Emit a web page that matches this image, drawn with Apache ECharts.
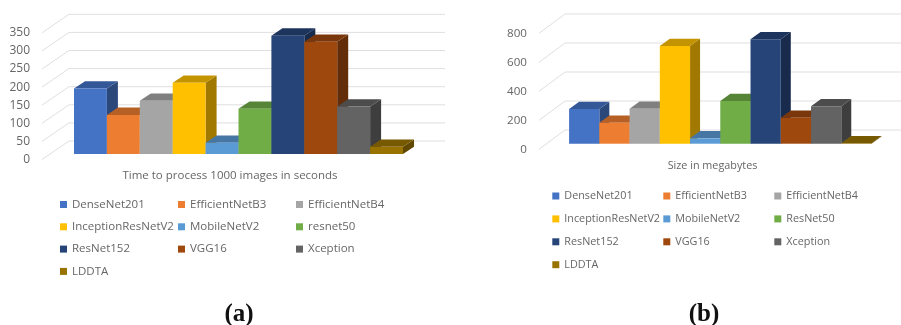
<!DOCTYPE html>
<html>
<head>
<meta charset="utf-8">
<style>html,body{margin:0;padding:0;background:#fff}#chart{width:901px;height:325px}</style>
<script src="https://cdn.jsdelivr.net/npm/echarts@6/dist/echarts.min.js"></script>
</head>
<body>
<div id="chart"></div>
<script>
// Model names for each panel (panel a spells resnet50 in lower case).
const modelsTime = ['DenseNet201','EfficientNetB3','EfficientNetB4','InceptionResNetV2','MobileNetV2','resnet50','ResNet152','VGG16','Xception','LDDTA'];
const modelsSize = ['DenseNet201','EfficientNetB3','EfficientNetB4','InceptionResNetV2','MobileNetV2','ResNet50','ResNet152','VGG16','Xception','LDDTA'];
// Seconds to process 1000 images.
const timeValues = [181,108,147,197,31,125,327,310,131,20];
// Model size in megabytes.
const sizeValues = [239,145,241,674,37,294,720,179,258,2];
const timeTicks = [0,50,100,150,200,250,300,350];
const sizeTicks = [0,200,400,600,800];
const timeCategory = 'Time to process 1000 images in seconds';
const sizeCategory = 'Size in megabytes';
const baseColors = ['#4472C4','#ED7D31','#A5A5A5','#FFC000','#5B9BD5','#70AD47','#264478','#9E480E','#636363','#997300'];

const FONT = '"Open Sans", sans-serif';
const TEXT = '#666666';

function shade(hex, k) {
  const n = parseInt(hex.slice(1), 16);
  const c = [n >> 16, (n >> 8) & 255, n & 255].map(v => Math.round(v * k));
  return 'rgb(' + c.join(',') + ')';
}

// Panel layout: the grid is the front plane of the 3D box, bars stand part way into its depth.
const panels = [
  { names: modelsTime, values: timeValues, ticks: timeTicks, category: timeCategory,
    grid: { left: 42, top: 32.8, width: 376, height: 126.7 },
    box: [27, -18.5], inset: [8.5, -5.5], depth: [11, -7.3], span: 0.875,
    textSize: 11.5, labelMargin: 10.5, valueSize: 12,
    legend: { lefts: [60, 178, 296], top: 197.5, gap: 8.3 }, caption: '(a)', captionX: 239 },
  { names: modelsSize, values: sizeValues, ticks: sizeTicks, category: sizeCategory,
    grid: { left: 539, top: 33.3, width: 347, height: 116 },
    box: [26, -19.3], inset: [7.8, -5.6], depth: [10, -7.3], span: 0.8715,
    textSize: 10.8, labelMargin: 11, valueSize: 11.6,
    legend: { lefts: [552.3, 663.3, 774.3], top: 189, gap: 8.9 }, caption: '(b)', captionX: 704 }
];

function wallSeries(p, idx) {
  return {
    type: 'custom', name: 'wall' + idx, xAxisIndex: idx, yAxisIndex: idx,
    silent: true, z: 1, legendHoverLink: false,
    data: p.ticks.map(t => [0, t]),
    renderItem(params, api) {
      const pt = api.coord([0, api.value(1)]);
      const band = api.size([1, 0])[0];
      const x0 = pt[0] - band / 2, y0 = pt[1];
      const x1 = x0 + p.box[0], y1 = y0 + p.box[1];
      return {
        type: 'polyline',
        shape: { points: [[x0, y0], [x1, y1], [x1 + band, y1]] },
        style: { fill: 'none', stroke: '#dfdfdf', lineWidth: 1 }
      };
    }
  };
}

function barSeries(p, idx, i) {
  const color = baseColors[i];
  return {
    type: 'custom', name: p.names[i], xAxisIndex: idx, yAxisIndex: idx,
    z: 2, itemStyle: { color },
    data: [[0, p.values[i]]],
    renderItem(params, api) {
      const top = api.coord([0, api.value(1)]);
      const base = api.coord([0, 0]);
      const band = api.size([1, 0])[0];
      const w = band * p.span / 10;
      const xl = top[0] + (i - 5) * w + p.inset[0];
      const xr = xl + w;
      const yt = top[1] + p.inset[1];
      const yb = base[1] + p.inset[1];
      const dx = p.depth[0], dy = p.depth[1];
      return {
        type: 'group',
        children: [
          { type: 'polygon', shape: { points: [[xr, yb], [xr + dx, yb + dy], [xr + dx, yt + dy], [xr, yt]] },
            style: { fill: shade(color, 0.63) } },
          { type: 'polygon', shape: { points: [[xl, yt], [xr, yt], [xr + dx, yt + dy], [xl + dx, yt + dy]] },
            style: { fill: shade(color, 0.77) } },
          { type: 'rect', shape: { x: xl, y: yt, width: w, height: yb - yt },
            style: { fill: color } }
        ]
      };
    }
  };
}

const series = [], grids = [], xAxes = [], yAxes = [], legends = [], titles = [];
panels.forEach((p, idx) => {
  grids.push(p.grid);
  xAxes.push({
    type: 'category', gridIndex: idx, data: [p.category],
    axisLine: { show: false }, axisTick: { show: false },
    axisLabel: { color: TEXT, fontFamily: FONT, fontSize: p.textSize, margin: p.labelMargin }
  });
  yAxes.push({
    type: 'value', gridIndex: idx, min: 0, max: p.ticks[p.ticks.length - 1], interval: p.ticks[1],
    axisLine: { show: false }, axisTick: { show: false }, splitLine: { show: false },
    axisLabel: { color: TEXT, fontFamily: FONT, fontSize: p.valueSize, margin: 12 }
  });
  series.push(wallSeries(p, idx));
  p.names.forEach((_, i) => series.push(barSeries(p, idx, i)));
  // Three columns, four rows: one vertical legend per column.
  p.legend.lefts.forEach((left, col) => {
    legends.push({
      orient: 'vertical', left, top: p.legend.top, padding: 0,
      itemWidth: 7, itemHeight: 7, itemGap: p.legend.gap, selectedMode: false,
      icon: 'rect',
      textStyle: { color: TEXT, fontFamily: FONT, fontSize: p.textSize, lineHeight: 14 },
      data: p.names.filter((_, i) => i % 3 === col)
    });
  });
  titles.push({
    text: p.caption, left: p.captionX, top: 302, textAlign: 'center', padding: 0,
    textStyle: { fontFamily: '"Liberation Serif", serif', fontWeight: 'bold', fontSize: 25, color: '#111' }
  });
});

const chart = echarts.init(document.getElementById('chart'), null, { renderer: 'canvas' });
chart.setOption({
  animation: false, backgroundColor: '#fff',
  title: titles, grid: grids, xAxis: xAxes, yAxis: yAxes, legend: legends, series
});
</script>
</body>
</html>
